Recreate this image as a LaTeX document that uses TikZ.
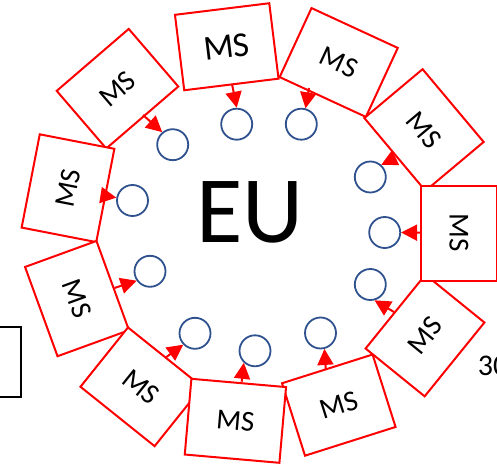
\documentclass[tikz,border=0pt]{standalone}
\usepackage{fontspec}
\setmainfont{Carlito}
\usetikzlibrary{arrows.meta}
\definecolor{ringblue}{RGB}{47,82,143}
\tikzset{
  msbox/.style={draw=red, line width=2pt, fill=white, minimum width=95pt,
    minimum height=76pt, inner sep=0pt, font=\fontsize{29}{29}\selectfont},
  ring/.style={draw=ringblue, line width=1.8pt, circle, minimum size=31pt, inner sep=0pt},
  arr/.style={red, line width=2pt, -{Triangle[length=16pt,width=16pt]}}
}
\begin{document}
\begin{tikzpicture}[x=1pt,y=-1pt]
\path[use as bounding box] (0,0) rectangle (497,465);
\clip (0,0) rectangle (497,465);
% side box (cropped)
\node[draw=black, line width=1.8pt, minimum width=60pt, minimum height=70pt, inner sep=0pt] (side) at (-9,362) {};
% boxes
\node[msbox, rotate=40.7] (K) at (117.5,88.7) {MS};
\node[msbox, rotate=7, font=\fontsize{35}{35}\selectfont] (A) at (226.75,46.75) {MS};
\node[msbox, rotate=-24.8] (B) at (338.7,62.5) {MS};
\node[msbox, rotate=-50] (C) at (424,130) {MS};
\node[msbox, rotate=79] (E) at (68,188.2) {MS};
\node[msbox, rotate=-70] (F) at (77,298.6) {MS};
\node[msbox, rotate=-38.7] (G) at (141.3,386.8) {MS};
\node[msbox, rotate=17.6] (I) at (338.8,405.1) {MS};
\node[msbox, rotate=-5] (H) at (235.4,420.8) {MS};
\node[msbox, rotate=51] (J) at (425,335.5) {MS};
\node[msbox, rotate=-90] (D) at (459,233) {MS};
% centre label
\node[font=\fontsize{95}{95}\selectfont, inner sep=0pt] (EU) at (250,212) {EU};
% small circles
\node[ring] (cA) at (236.7,124.2) {};
\node[ring] (cB) at (301.3,124.2) {};
\node[ring] (cC) at (370.3,177) {};
\node[ring] (cD) at (384.7,232.5) {};
\node[ring] (cJ) at (370.3,284.5) {};
\node[ring] (cI) at (320.5,333) {};
\node[ring] (cH) at (255,350.8) {};
\node[ring] (cG) at (195,333.3) {};
\node[ring] (cF) at (150,271.3) {};
\node[ring] (cE) at (132.5,200.5) {};
\node[ring] (cK) at (172.7,144.7) {};
% arrow tails
\coordinate (tA) at (232,84);
\coordinate (tB) at (309,88);
\coordinate (tC) at (395,158);
\coordinate (tD) at (421,232.7);
\coordinate (tJ) at (394,312);
\coordinate (tI) at (325.7,369);
\coordinate (tH) at (241.7,381.7);
\coordinate (tG) at (166,357.3);
\coordinate (tF) at (114.5,288);
\coordinate (tE) at (106,196);
\coordinate (tK) at (143,115);
% arrows
\draw[arr] (tA) -- (cA.90);
\draw[arr] (tB) -- (cB.75);
\draw[arr] (tC) -- (cC.48);
\draw[arr] (tD) -- (cD.0);
\draw[arr] (tJ) -- (cJ.-75);
\draw[arr] (tI) -- (cI.-76);
\draw[arr] (tH) -- (cH.227);
\draw[arr] (tG) -- (cG.224);
\draw[arr] (tF) -- (cF.215);
\draw[arr] (tE) -- (cE.170);
\draw[arr] (tK) -- (cK.130);
% cropped number
\node[anchor=base west, inner sep=0pt, font=\fontsize{30}{30}\selectfont] (num) at (477.6,375) {30};
\end{tikzpicture}
\end{document}
